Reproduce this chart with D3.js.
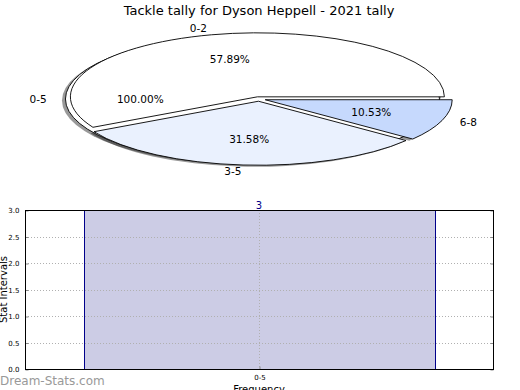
<!DOCTYPE html>
<html>
<head>
<meta charset="utf-8">
<script src="https://cdn.jsdelivr.net/npm/d3@7"></script>
<style>
  body { margin: 0; background: #fff; }
  svg { font-family: "DejaVu Sans", sans-serif; display: block; }
</style>
</head>
<body>
<script>
// pie data
var pieLabels = ["0-2", "3-5", "6-8"];
var pieValues = [11, 6, 2];
var pieColors = ["#ffffff", "#eaf1fe", "#c6d9fd"];
var fullLabel = "0-5";
var fullValue = [19];

// bar data
var barCats = ["0-5"];
var barVals = [3];
var yTicks = [0, 0.5, 1, 1.5, 2, 2.5, 3];

var W = 520, H = 390;

var svg = d3.select("body").append("svg")
    .attr("width", W)
    .attr("height", H);

svg.append("text")
    .attr("x", 259)
    .attr("y", 15)
    .attr("text-anchor", "middle")
    .style("font-size", "13px")
    .text("Tackle tally for Dyson Heppell - 2021 tally");

// ---- pie ----
var cx = 259, cy = 99, rx = 187, ry = 64, explode = 0.035;

var pie = d3.pie()
    .sort(null)
    .startAngle(Math.PI / 2)
    .endAngle(Math.PI / 2 - 2 * Math.PI);

var arc = d3.arc().innerRadius(0).outerRadius(rx);

var total = d3.sum(pieValues);
var slices = pie(pieValues).map(function(d, i) {
  return {arc: d, label: pieLabels[i], color: pieColors[i], pct: d.value / total};
});
var full = pie(fullValue).map(function(d) {
  return {arc: d, label: fullLabel, color: "#ffffff", pct: 1};
});
// the 0-5 wedge sits behind, exploded to the left
full[0].mid = Math.PI;
slices.forEach(function(s) {
  // matplotlib style angle (counter-clockwise from east)
  var a0 = Math.PI / 2 - s.arc.startAngle, a1 = Math.PI / 2 - s.arc.endAngle;
  s.mid = (a0 + a1) / 2;
});
var all = full.concat(slices);

function offs(s, k) {
  return [cx + k * rx * Math.cos(s.mid), cy - k * ry * Math.sin(s.mid)];
}

var pieG = svg.append("g");

// shadows
pieG.selectAll(".shadow")
    .data(all)
  .enter().append("path")
    .attr("class", "shadow")
    .attr("d", function(d) { return arc(d.arc); })
    .attr("transform", function(d) {
      var p = offs(d, explode);
      return "translate(" + (p[0] - 3.5) + "," + (p[1] + 1.6) + ") scale(1," + (ry / rx) + ")";
    })
    .attr("fill", "#000")
    .attr("fill-opacity", 0.4);

pieG.selectAll(".wedge")
    .data(all)
  .enter().append("path")
    .attr("class", "wedge")
    .attr("d", function(d) { return arc(d.arc); })
    .attr("transform", function(d) {
      var p = offs(d, explode);
      return "translate(" + p[0] + "," + p[1] + ") scale(1," + (ry / rx) + ")";
    })
    .attr("fill", function(d) { return d.color; })
    .attr("stroke", "#000")
    .attr("stroke-width", 0.9)
    .attr("stroke-linejoin", "round")
    .attr("vector-effect", "non-scaling-stroke");

pieG.selectAll(".lab")
    .data(all)
  .enter().append("text")
    .attr("class", "lab")
    .attr("x", function(d) { return offs(d, 1.1 + explode)[0]; })
    .attr("y", function(d) { return offs(d, 1.1 + explode)[1]; })
    .attr("dy", "0.35em")
    .attr("text-anchor", function(d) { return Math.cos(d.mid) > 0 ? "start" : "end"; })
    .style("font-size", "10.5px")
    .text(function(d) { return d.label; });

pieG.selectAll(".pct")
    .data(all)
  .enter().append("text")
    .attr("class", "pct")
    .attr("x", function(d) { return offs(d, 0.6 + explode)[0]; })
    .attr("y", function(d) { return offs(d, 0.6 + explode)[1]; })
    .attr("dy", "0.35em")
    .attr("text-anchor", "middle")
    .style("font-size", "10.5px")
    .text(function(d) { return (d.pct * 100).toFixed(2) + "%"; });

// ---- bar chart ----
var pl = 25, pr = 493, pt = 210, pb = 369;

var x = d3.scaleLinear().domain([0, 1]).range([pl, pr]);
var y = d3.scaleLinear().domain([0, 3]).range([pb, pt]);
var barW = 0.75;

var g = svg.append("g");

g.selectAll(".bar")
    .data(barVals)
  .enter().append("rect")
    .attr("class", "bar")
    .attr("x", function(d, i) { return Math.round(x(i + 0.5 - barW / 2)) + 0.5; })
    .attr("width", Math.round(x(barW) - x(0)))
    .attr("y", function(d) { return Math.round(y(d)) + 0.5; })
    .attr("height", function(d) { return Math.round(y(0) - y(d)); })
    .attr("fill", "#ccccE5")
    .attr("stroke", "#00008b")
    .attr("stroke-width", 1);

// grid
g.selectAll(".hgrid")
    .data(yTicks.slice(1, -1))
  .enter().append("line")
    .attr("x1", pl).attr("x2", pr)
    .attr("y1", function(d) { return Math.round(y(d)) + 0.5; })
    .attr("y2", function(d) { return Math.round(y(d)) + 0.5; })
    .attr("stroke", "#b0b0b0")
    .attr("stroke-dasharray", "1,2");

g.selectAll(".vgrid")
    .data(barCats)
  .enter().append("line")
    .attr("x1", function(d, i) { return Math.round(x(i + 0.5)) + 0.5; })
    .attr("x2", function(d, i) { return Math.round(x(i + 0.5)) + 0.5; })
    .attr("y1", pt).attr("y2", pb)
    .attr("stroke", "#b0b0b0")
    .attr("stroke-dasharray", "1,2");

// axes
var yAxis = d3.axisLeft(y).tickValues(yTicks).tickFormat(d3.format(".1f")).tickSize(-3).tickPadding(6);
var yAxisR = d3.axisRight(y).tickValues(yTicks).tickFormat("").tickSize(-3);
var xAxis = d3.axisBottom(x).tickValues([0.5]).tickFormat(function() { return barCats[0]; }).tickSize(-3).tickPadding(6);

function styleAxis(sel) {
  sel.select(".domain").remove();
  sel.selectAll("line").attr("stroke", "#888");
  sel.selectAll("text").style("font-size", "7px").style("font-family", "DejaVu Sans").attr("fill", "#000");
}

g.append("g").attr("transform", "translate(" + (pl + 0.5) + ",0.5)").call(yAxis).call(styleAxis);
g.append("g").attr("transform", "translate(" + (pr + 0.5) + ",0.5)").call(yAxisR).call(styleAxis);
g.append("g").attr("transform", "translate(0.5," + (pb + 0.5) + ")").call(xAxis).call(styleAxis);

g.append("rect")
    .attr("x", pl + 0.5).attr("y", pt + 0.5)
    .attr("width", pr - pl).attr("height", pb - pt)
    .attr("fill", "none")
    .attr("stroke", "#000")
    .attr("stroke-width", 1);

g.selectAll(".val")
    .data(barVals)
  .enter().append("text")
    .attr("x", function(d, i) { return x(i + 0.5); })
    .attr("y", function(d) { return y(d) - 1; })
    .attr("text-anchor", "middle")
    .attr("fill", "#00008b")
    .style("font-size", "10px")
    .text(function(d) { return d; });

g.append("text")
    .attr("transform", "translate(7," + ((pt + pb) / 2) + ") rotate(-90)")
    .attr("text-anchor", "middle")
    .style("font-size", "10px")
    .text("Stat Intervals");

g.append("text")
    .attr("x", x(0.5))
    .attr("y", 393)
    .attr("text-anchor", "middle")
    .style("font-size", "10px")
    .text("Frequency");

svg.append("text")
    .attr("x", 0)
    .attr("y", 385)
    .attr("fill", "#999")
    .style("font-size", "12px")
    .text("Dream-Stats.com");
</script>
</body>
</html>
